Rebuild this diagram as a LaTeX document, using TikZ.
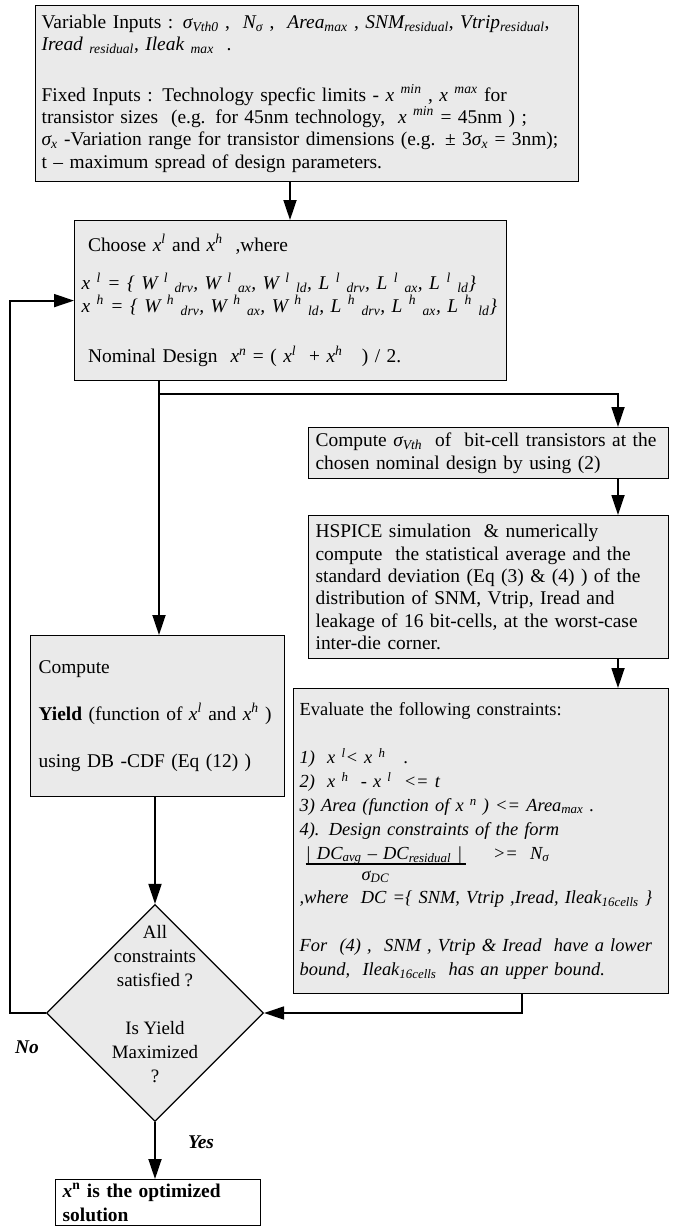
\documentclass[tikz,border=0pt]{standalone}
\usepackage{fontspec}
\setmainfont{Liberation Serif}
\usetikzlibrary{arrows.meta,shapes.geometric,calc}
\definecolor{boxgray}{RGB}{234,234,234}
\newcommand\fsA{\fontsize{19.5}{22.5}\selectfont}
\newcommand\fsB{\fontsize{19}{24}\selectfont}
\newcommand\fsC{\fontsize{18.5}{24}\selectfont}
\newcommand\sbx[1]{\textsubscript{#1}}
\newcommand\spx[1]{\textsuperscript{#1}}
\begin{document}
\begin{tikzpicture}[x=1bp,y=-1bp,
  box/.style={draw, line width=1.2bp, fill=boxgray, inner xsep=7bp, inner ysep=0bp,
    anchor=north west, align=left, font=\fsA},
  conn/.style={line width=1.8bp},
  arr/.style={line width=1.8bp, -{Triangle[length=20bp,width=13bp]}},
  dia/.style={diamond, draw, line width=1.2bp, fill=boxgray, shape aspect=1,
    minimum width=217bp, minimum height=217bp, inner sep=0bp},
  lbl/.style={font=\fsA\bfseries\itshape, inner sep=0bp}]
\useasboundingbox (0,0) rectangle (676,1226);

% boxes
\node[box, minimum width=543bp, minimum height=176bp, text width=531bp, inner xsep=6bp] (inputs) at (35,5)
 {Variable Inputs : \textit{σ\sbx{Vth0}} ,\ \ \textit{N\sbx{σ}} ,\ \ \textit{Area\sbx{max}} , \textit{SNM\sbx{residual}}, \textit{Vtrip\sbx{residual}},\\
  \textit{Iread \sbx{residual}}, \textit{Ileak \sbx{max}}\ \ .\\[28bp]
  Fixed Inputs : Technology specfic limits - \textit{x \spx{min}} , \textit{x \spx{max}} for\\
  transistor sizes\ \ (e.g. for 45nm technology,\ \ \textit{x \spx{min}} = 45nm ) ;\\
  \textit{σ\sbx{x}} -Variation range for transistor dimensions (e.g. ± 3\textit{σ\sbx{x}} = 3nm);\\
  t – maximum spread of design parameters.};

\node[box, minimum width=432bp, minimum height=160bp, text width=418bp] (choose) at (74,220)
 {\ Choose \textit{x\spx{l}} and \textit{x\spx{h}}\ \ ,where\\[16bp]
  \textit{x \spx{l} = \{ W \spx{l}\sbx{ drv}, W \spx{l}\sbx{ ax}, W \spx{l}\sbx{ ld}, L \spx{l}\sbx{ drv}, L \spx{l}\sbx{ ax}, L \spx{l}\sbx{ ld}\}}\\
  \textit{x \spx{h} = \{ W \spx{h}\sbx{ drv}, W \spx{h}\sbx{ ax}, W \spx{h}\sbx{ ld}, L \spx{h}\sbx{ drv}, L \spx{h}\sbx{ ax}, L \spx{h}\sbx{ ld}\}}\\[28bp]
  \ Nominal Design\ \ \textit{x\spx{n}} = ( \textit{x\spx{l}}\ \ + \textit{x\spx{h}}\ \ \ ) / 2.};

\node[box, minimum width=360bp, minimum height=51bp, text width=346bp] (sigma) at (308,427)
 {Compute \textit{σ\sbx{Vth}}\ \ of\ \ bit-cell transistors at the\\
  chosen nominal design by using (2)};

\node[box, minimum width=360bp, minimum height=143bp, text width=346bp] (hspice) at (308,515)
 {HSPICE simulation\ \ \& numerically\\
  compute\ \ the statistical average and the\\
  standard deviation (Eq (3) \& (4) ) of the\\
  distribution of SNM, Vtrip, Iread and\\
  leakage of 16 bit-cells, at the worst-case\\
  inter-die corner.};

\node[box, minimum width=254bp, minimum height=161bp, text width=238bp, inner xsep=8bp] (yield) at (30,635)
 {Compute\\[25bp]
  \textbf{Yield} (function of \textit{x\spx{l}} and \textit{x\spx{h}} )\\[25bp]
  using DB -CDF (Eq (12) )};

\node[box, minimum width=375bp, minimum height=305bp, text width=363bp, inner xsep=6bp, font=\fsC] (eval) at (293,688)
 {Evaluate the following constraints:\\[24bp]
  \textit{1)\ \ x \spx{l}< x \spx{h}\ \ \ .}\\
  \textit{2)\ \ x \spx{h}\ \ - x \spx{l}\ \ <= t}\\
  \textit{3) Area (function of x \spx{n} ) <= Area\sbx{max} .}\\
  \textit{4). Design constraints of the form}\\
  \ \makebox[0pt][l]{\rule[-6bp]{160bp}{1.8bp}}\textit{| DC\sbx{avg} – DC\sbx{residual} |}\ \ \ \ \ \textit{>=\ \ N\sbx{σ}}\\[-3bp]
  \hspace{62bp}\textit{σ\sbx{DC}}\\
  \textit{,where\ \ DC =\{ SNM, Vtrip ,Iread, Ileak\sbx{16cells} \}}\\[24bp]
  \textit{For\ \ (4) ,\ \ SNM , Vtrip \& Iread\ \ have a lower}\\
  \textit{bound,\ \ Ileak\sbx{16cells}\ \ has an upper bound.}};

\node[dia] (dec) at (155,1013) {};
\node[align=center, font=\fsB, inner sep=0bp] (dectxt) at (155,1004)
 {All\\constraints\\satisfied ?\\[24bp]Is Yield\\Maximized\\?};

\node[box, fill=white, minimum width=205bp, minimum height=46bp, text width=191bp,
  font=\fontsize{19.5}{24}\selectfont\bfseries] (final) at (55,1179)
 {\textit{x}\spx{n} is the optimized\\solution};

\node[lbl] (nolbl) at (27,1047) {No};
\node[lbl] (yeslbl) at (201,1142) {Yes};

% connector axes
\coordinate (axA) at (290,0);
\coordinate (axB) at (618,0);
\coordinate (axC) at (522,0);
\coordinate (axL) at (10,0);
\coordinate (split) at (159,394);

% connectors
\draw[arr] (inputs.south -| axA) -- (choose.north -| axA);
\draw[conn] (choose.south -| split) -- (split);
\draw[arr] (split) -- (split |- yield.north);
\draw[arr] (split) -| (sigma.north -| axB);
\draw[arr] (sigma.south -| axB) -- (hspice.north -| axB);
\draw[arr] (hspice.south -| axB) -- (eval.north -| axB);
\draw[arr] (eval.south -| axC) |- (dec.east);
\draw[arr] (yield.south -| dec.north) -- (dec.north);
\draw[arr] (dec.west) -| (axL |- choose.west) -- (choose.west);
\draw[arr] (dec.south) -- (dec.south |- final.north);
\end{tikzpicture}
\end{document}
